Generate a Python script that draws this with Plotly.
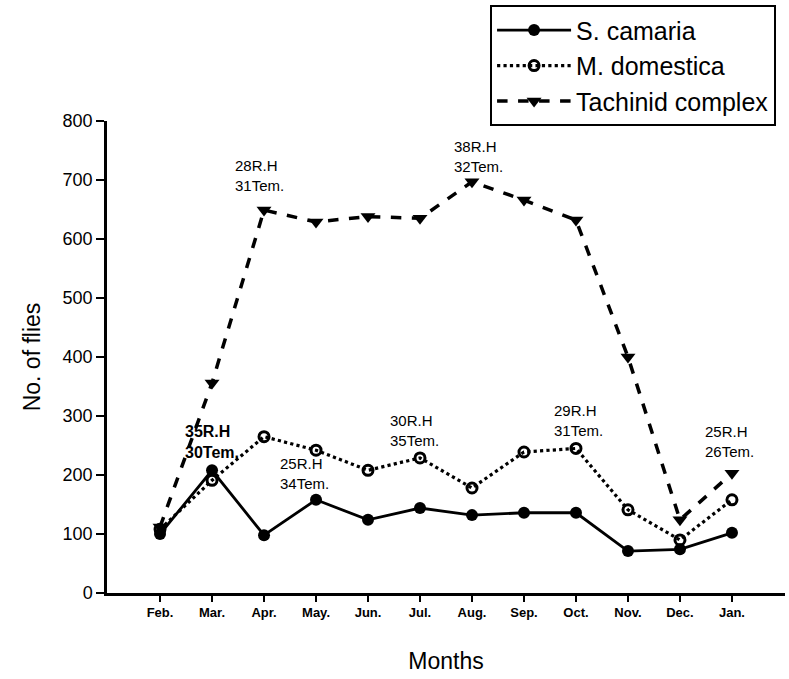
import plotly.graph_objects as go

months = ["Feb.", "Mar.", "Apr.", "May.", "Jun.", "Jul.", "Aug.", "Sep.", "Oct.", "Nov.", "Dec.", "Jan."]
s_camaria = [100, 208, 98, 158, 124, 144, 132, 136, 136, 71, 74, 102]
m_domestica = [108, 191, 265, 242, 208, 229, 178, 239, 245, 141, 90, 158]
tachinid = [112, 356, 649, 629, 638, 635, 697, 666, 632, 400, 124, 203]

ann_texts = ["35R.H<br>30Tem.", "28R.H<br>31Tem.", "25R.H<br>34Tem.", "30R.H<br>35Tem.",
             "38R.H<br>32Tem.", "29R.H<br>31Tem.", "25R.H<br>26Tem."]
ann_x = [0.44, 1.40, 2.27, 4.38, 5.62, 7.54, 10.44]
ann_y = [256, 708, 202, 276, 739, 293, 256]
ann_bold = [True, False, False, False, False, False, False]

xi = list(range(len(months)))
fig = go.Figure()
fig.add_trace(go.Scatter(x=xi, y=s_camaria, name="S. camaria", mode="lines+markers",
                         line=dict(color="black", width=2.8),
                         marker=dict(symbol="circle", size=12, color="black")))
fig.add_trace(go.Scatter(x=xi, y=m_domestica, name="M. domestica", mode="lines+markers",
                         line=dict(color="black", width=3.2, dash="dot"),
                         marker=dict(symbol="circle-open", size=10, color="black", line=dict(width=3))))
fig.add_trace(go.Scatter(x=xi, y=tachinid, name="Tachinid complex", mode="lines+markers",
                         line=dict(color="black", width=3.5, dash="dash"),
                         marker=dict(symbol="triangle-down", size=13, color="black")))

for t, x, y, b in zip(ann_texts, ann_x, ann_y, ann_bold):
    fig.add_annotation(x=x, y=y, xref="x", yref="y", text=t, showarrow=False,
                       xanchor="left", yanchor="middle", align="left",
                       font=dict(family="Arial, Liberation Sans", size=16 if b else 15,
                                 color="black", weight="bold" if b else "normal"))

fig.update_layout(
    width=789, height=679,
    margin=dict(l=107, r=4, t=121, b=86),
    paper_bgcolor="white", plot_bgcolor="white",
    font=dict(family="Arial, Liberation Sans", color="black"),
    showlegend=True,
    legend=dict(x=0.565, y=1.245, xanchor="left", yanchor="top",
                bordercolor="black", borderwidth=2, bgcolor="white",
                font=dict(size=25, family="Arial, Liberation Sans"),
                tracegroupgap=0, itemwidth=74),
    xaxis=dict(range=[-1.02, 12.02], tickmode="array", tickvals=xi, ticktext=months,
               showline=True, linecolor="black", linewidth=2.5, ticks="outside",
               ticklen=6, tickwidth=2, tickcolor="black", showgrid=False, zeroline=False,
               tickfont=dict(size=13, family="Liberation Sans Narrow, Arial Narrow, Arial", weight="bold"),
               title=dict(text="Months", font=dict(size=23), standoff=34)),
    yaxis=dict(range=[0, 800], tickvals=[0, 100, 200, 300, 400, 500, 600, 700, 800],
               showline=True, linecolor="black", linewidth=2.5, ticks="outside",
               ticklen=8, tickwidth=2, tickcolor="black", showgrid=False, zeroline=False,
               tickfont=dict(size=18),
               title=dict(text="No. of flies", font=dict(size=23), standoff=16)),
)

fig.write_html("out.html")
